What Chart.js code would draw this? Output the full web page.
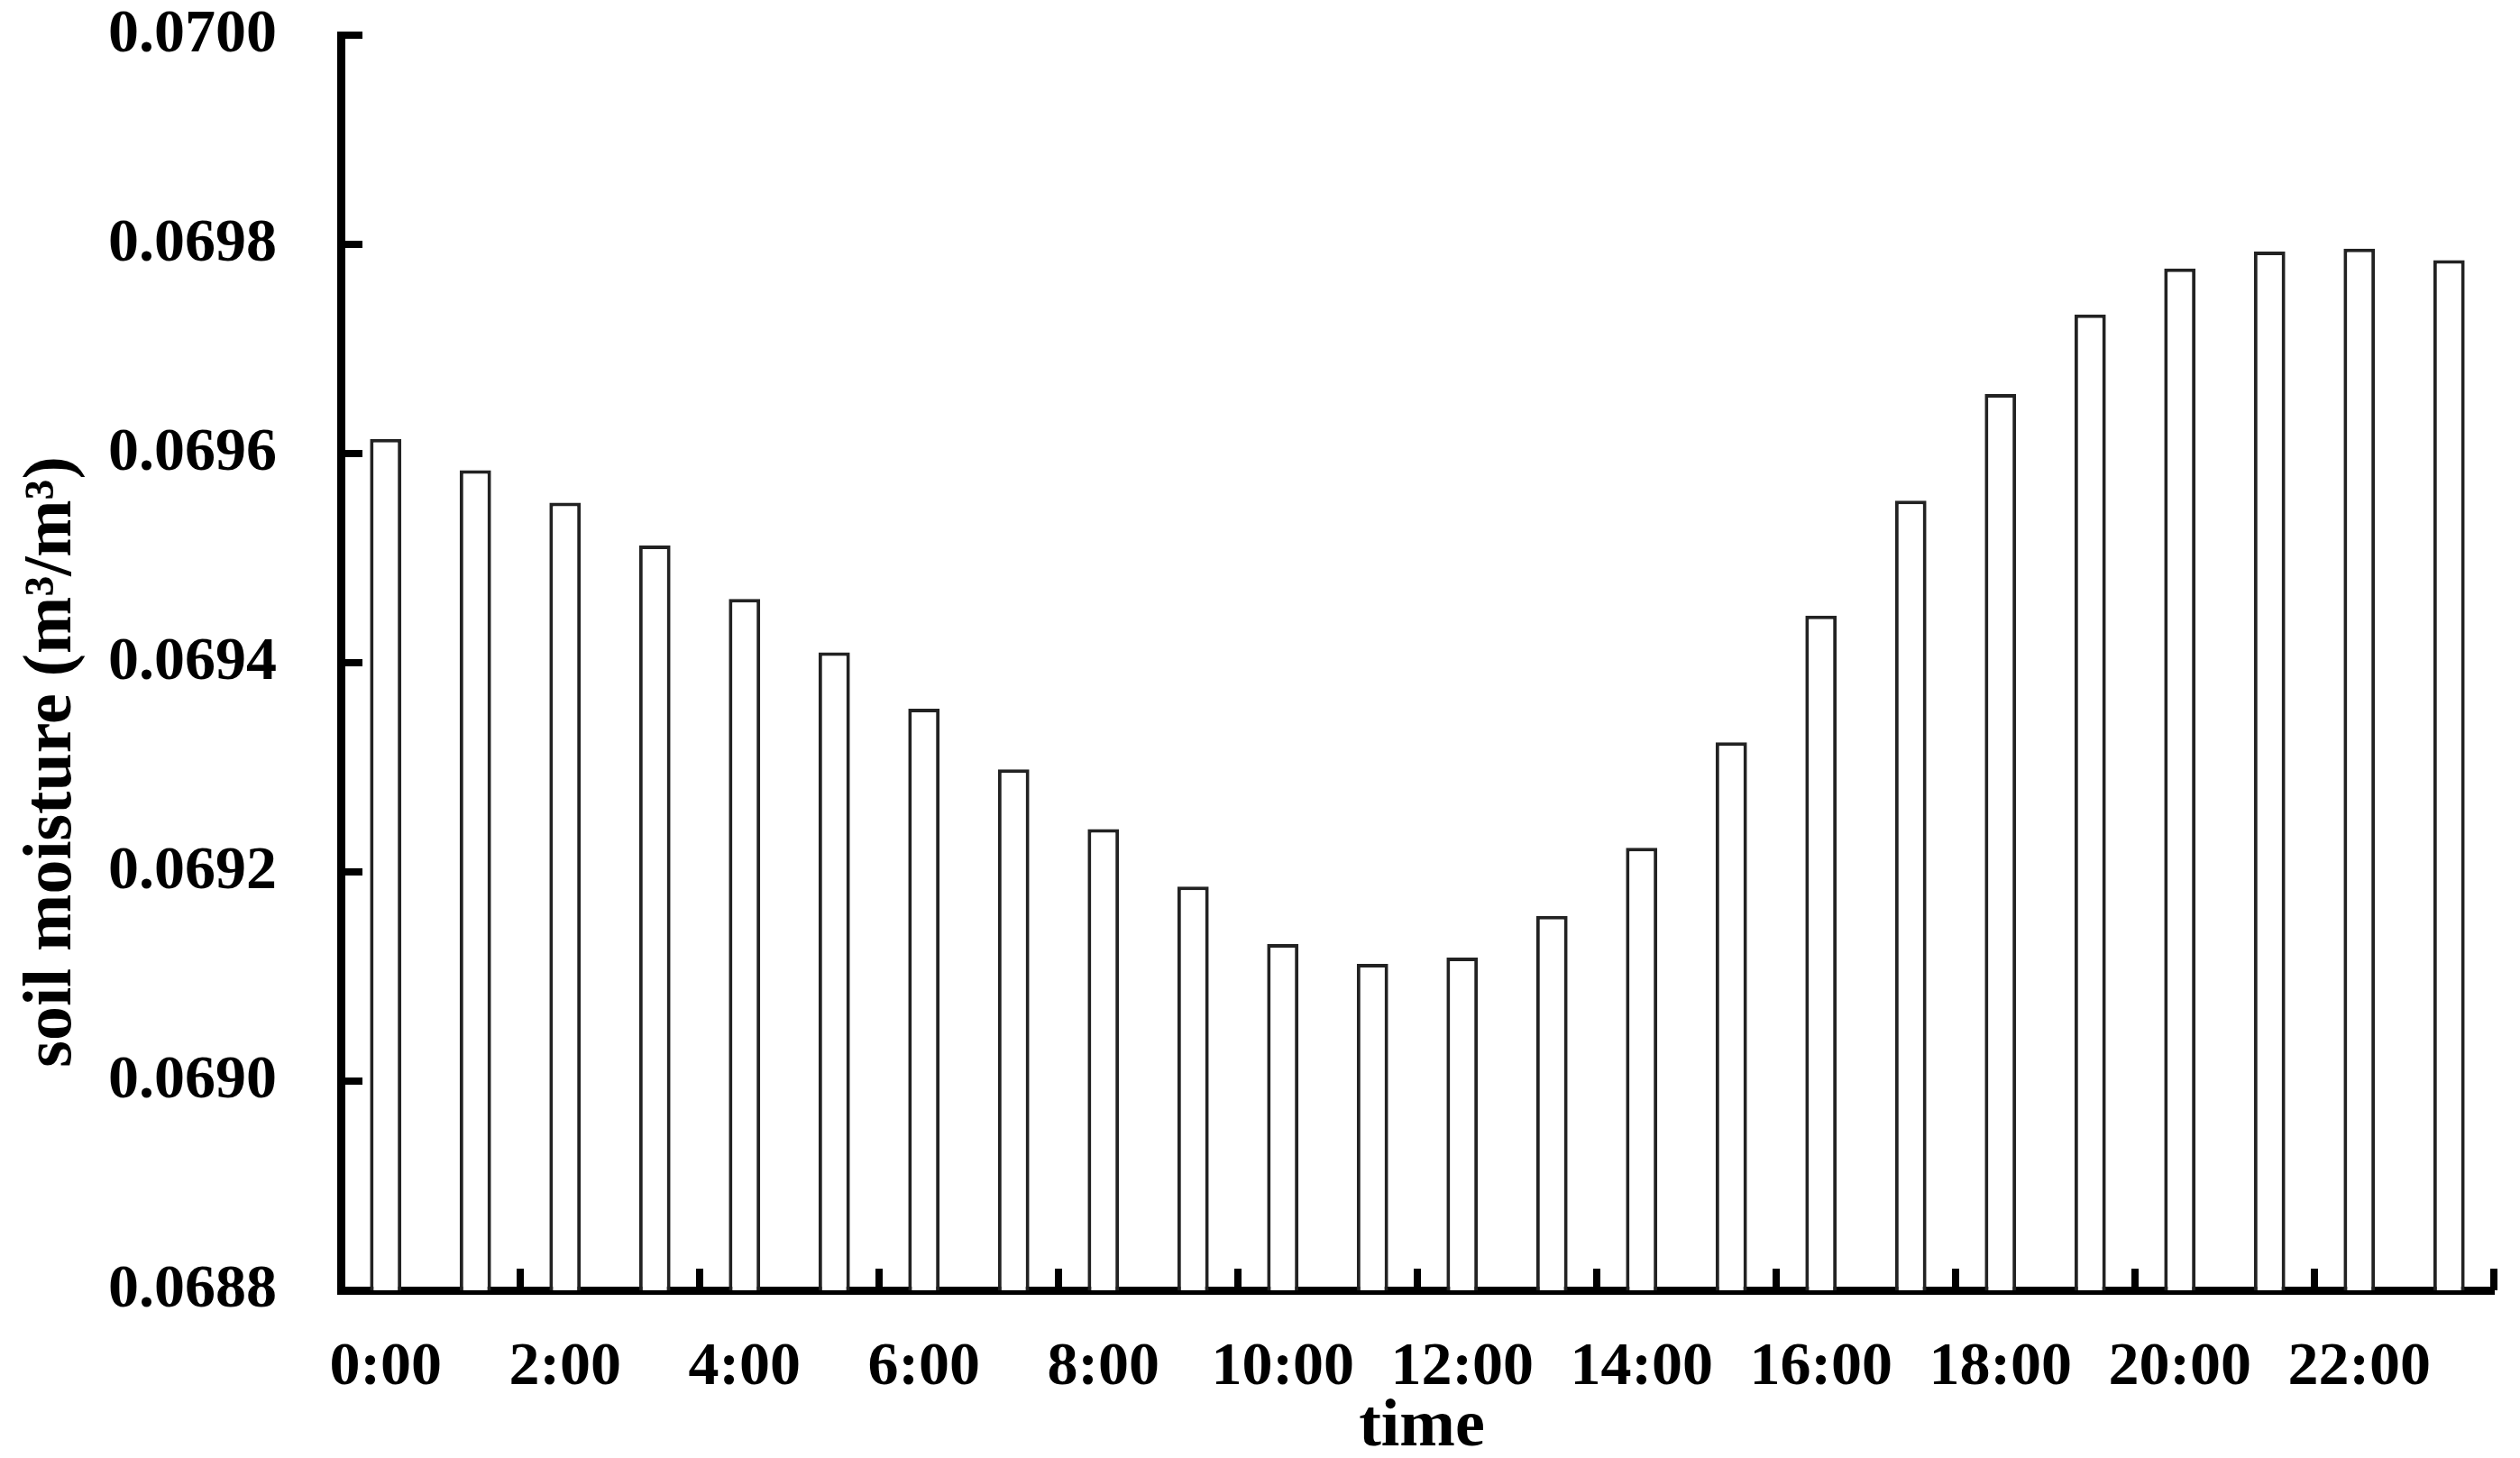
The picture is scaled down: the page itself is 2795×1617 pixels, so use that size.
<!DOCTYPE html>
<html>
<head>
<meta charset="utf-8">
<script src="https://cdn.jsdelivr.net/npm/chart.js@4.4.1/dist/chart.umd.min.js"></script>
<style>
  html, body { margin: 0; padding: 0; background: #fff; }
  #wrap { width: 2795px; height: 1617px; }
</style>
</head>
<body>
<div id="wrap"><canvas id="grafico" width="2795" height="1617"></canvas></div>
<script>
// horas do dia (categorias do eixo x)
const horas = ["0:00", "1:00", "2:00", "3:00", "4:00", "5:00", "6:00", "7:00",
    "8:00", "9:00", "10:00", "11:00", "12:00", "13:00", "14:00", "15:00",
    "16:00", "17:00", "18:00", "19:00", "20:00", "21:00", "22:00", "23:00"];

// umidade do solo (m3/m3)
const umidade = [0.069614, 0.069584, 0.069553, 0.069512, 0.069461, 0.069410,
    0.069356, 0.069298, 0.069241, 0.069186, 0.069131, 0.069112,
    0.069118, 0.069158, 0.069223, 0.069324, 0.069445, 0.069555,
    0.069657, 0.069733, 0.069777, 0.069793, 0.069796, 0.069785];

// marcas do eixo y
const marcasY = [0.0688, 0.0690, 0.0692, 0.0694, 0.0696, 0.0698, 0.0700];

const tituloY = "soil moisture (m\u00b3/m\u00b3)";
const tituloX = "time";

const fonte = "'Liberation Serif', 'Times New Roman', serif";

// --- ticks para dentro + titulos dos eixos ---
const decoracaoEixos = {
    id: "decoracaoEixos",
    afterDraw(chart) {
        const { ctx, chartArea: a, scales: { x, y } } = chart;
        ctx.save();
        ctx.strokeStyle = "#000";
        ctx.lineWidth = 8;
        ctx.lineCap = "butt";

        marcasY.forEach(v => {
            const py = y.getPixelForValue(v);
            ctx.beginPath();
            ctx.moveTo(a.left, py);
            ctx.lineTo(a.left + 24, py);
            ctx.stroke();
        });

        for (let i = 2; i <= horas.length; i += 2) {
            const px = x.getPixelForValue(i - 0.5);
            ctx.beginPath();
            ctx.moveTo(px, a.bottom);
            ctx.lineTo(px, a.bottom - 24);
            ctx.stroke();
        }

        ctx.fillStyle = "#000";
        ctx.textAlign = "center";
        ctx.textBaseline = "alphabetic";

        ctx.font = "bold 74px " + fonte;
        ctx.fillText(tituloX, (a.left + a.right) / 2 + 5, 1603);

        ctx.translate(78, 845);
        ctx.rotate(-Math.PI / 2);
        ctx.font = "bold 76px " + fonte;
        ctx.fillText(tituloY, 0, 0);
        ctx.restore();
    }
};

const ctx = document.getElementById("grafico").getContext("2d");
new Chart(ctx, {
    type: "bar",
    data: {
        labels: horas,
        datasets: [{
            data: umidade,
            backgroundColor: "#fff",
            borderColor: "#222",
            borderWidth: 4,
            categoryPercentage: 1,
            barPercentage: 0.35
        }]
    },
    options: {
        responsive: false,
        animation: false,
        devicePixelRatio: 1,
        layout: { padding: { top: 39, right: 29, left: 0, bottom: 0 } },
        plugins: { legend: { display: false }, tooltip: { enabled: false } },
        scales: {
            x: {
                z: 1,
                grid: { display: false, drawTicks: false },
                border: { display: true, color: "#000", width: 9 },
                ticks: {
                    autoSkip: false,
                    maxRotation: 0,
                    padding: 46,
                    color: "#000",
                    font: { family: fonte, size: 68, weight: "bold" },
                    callback: (v, i) => (i % 2 === 0 ? horas[i] : "")
                },
                afterFit: s => {
                    s.height = 186;
                    s.paddingLeft = 0;
                    s.paddingRight = 0;
                }
            },
            y: {
                z: 1,
                min: 0.0688,
                max: 0.0700,
                grid: { display: false, drawTicks: false },
                border: { display: true, color: "#000", width: 9 },
                ticks: {
                    stepSize: 0.0002,
                    padding: 71,
                    color: "#000",
                    font: { family: fonte, size: 68, weight: "bold" },
                    callback: v => v.toFixed(4)
                },
                afterFit: s => {
                    s.width = 378;
                    s.paddingTop = 0;
                    s.paddingBottom = 0;
                }
            }
        }
    },
    plugins: [decoracaoEixos]
});
</script>
</body>
</html>
